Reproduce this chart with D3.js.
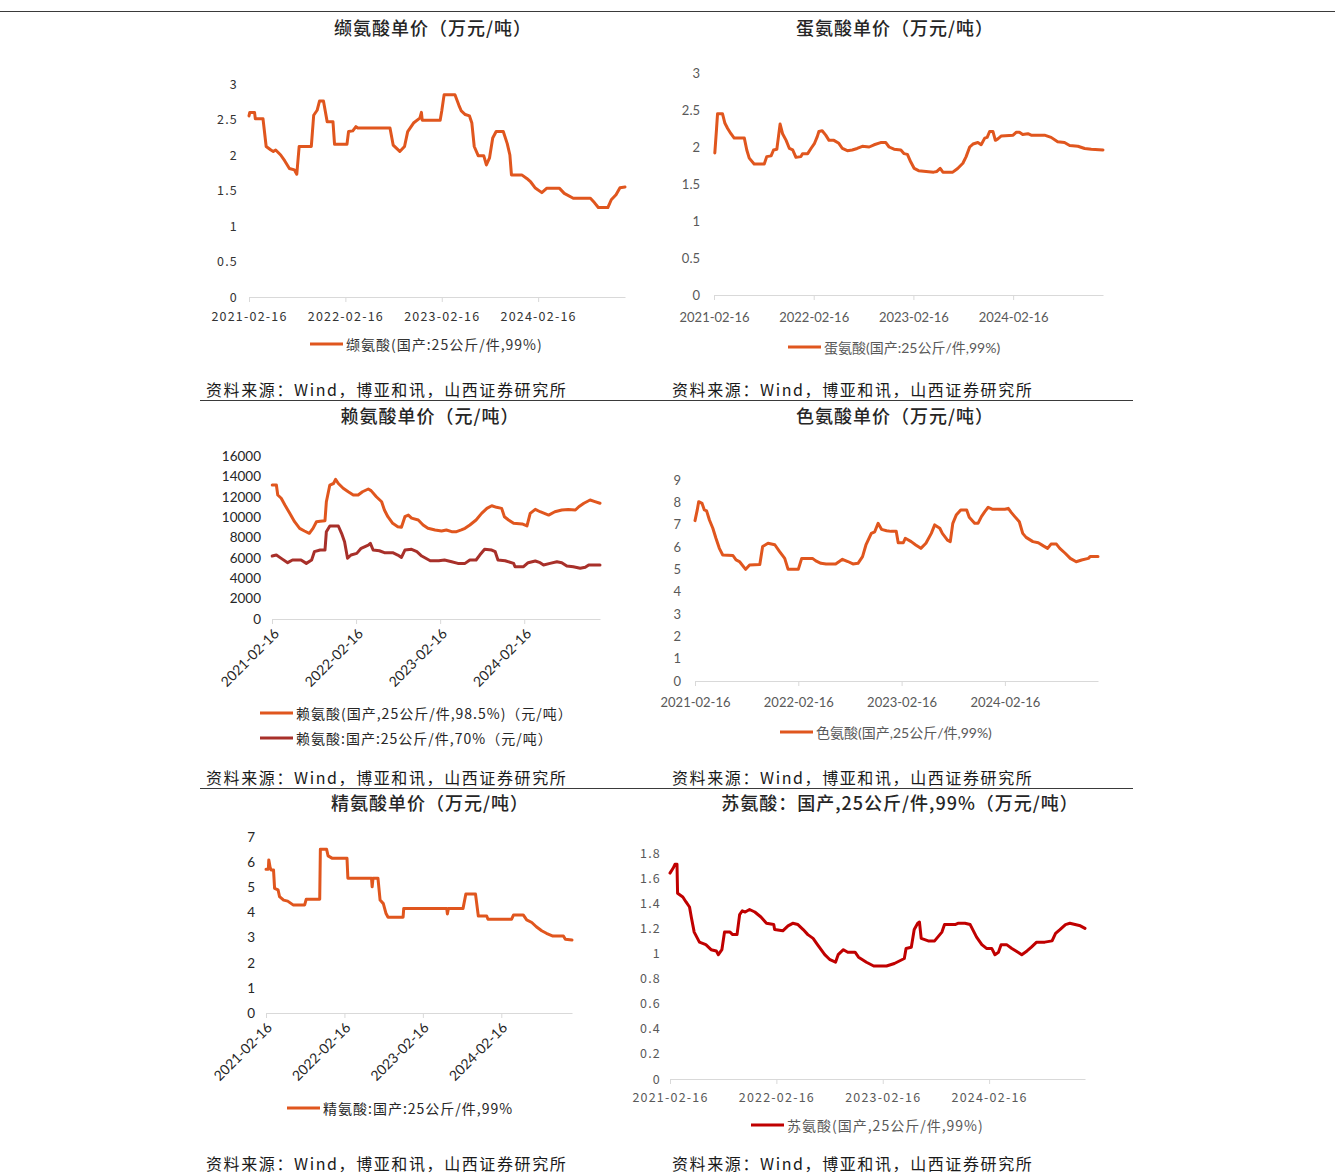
<!DOCTYPE html>
<html>
<head>
<meta charset="utf-8">
<script src="https://cdn.jsdelivr.net/npm/d3@7"></script>
<style>
  body { margin: 0; background: #fff; }
  svg { display: block; }
</style>
</head>
<body>
<div id="chart"></div>
<script>
// ---- data ----
var startDate = "2021-02-16", endDate = "2025-01-10";
var xTickDates = ["2021-02-16", "2022-02-16", "2023-02-16", "2024-02-16"];

var valineTicks = [0, 0.5, 1, 1.5, 2, 2.5, 3];
var methionineTicks = [0, 0.5, 1, 1.5, 2, 2.5, 3];
var lysineTicks = [0, 2000, 4000, 6000, 8000, 10000, 12000, 14000, 16000];
var tryptophanTicks = [0, 1, 2, 3, 4, 5, 6, 7, 8, 9];
var arginineTicks = [0, 1, 2, 3, 4, 5, 6, 7];
var threonineTicks = [0, 0.2, 0.4, 0.6, 0.8, 1, 1.2, 1.4, 1.6, 1.8];

var valine = [
  ["2021-02-16",2.55],["2021-02-19",2.60],["2021-03-09",2.60],["2021-03-12",2.51],["2021-04-10",2.51],
  ["2021-04-22",2.12],["2021-05-10",2.07],["2021-05-19",2.05],["2021-05-28",2.07],["2021-06-16",2.00],
  ["2021-07-01",1.92],["2021-07-19",1.81],["2021-08-07",1.79],["2021-08-16",1.73],["2021-08-25",2.12],
  ["2021-10-10",2.12],["2021-10-19",2.56],["2021-11-01",2.63],["2021-11-10",2.76],["2021-11-25",2.76],
  ["2021-12-09",2.47],["2021-12-31",2.47],["2022-01-06",2.15],["2022-02-22",2.15],["2022-02-28",2.33],
  ["2022-03-16",2.34],["2022-03-28",2.40],["2022-04-04",2.38],["2022-08-04",2.38],["2022-08-16",2.14],
  ["2022-09-10",2.05],["2022-09-28",2.12],["2022-10-10",2.33],["2022-11-01",2.45],["2022-11-25",2.52],
  ["2022-12-01",2.60],["2022-12-04",2.49],["2023-02-10",2.49],["2023-02-16",2.62],["2023-02-25",2.85],
  ["2023-04-07",2.85],["2023-04-22",2.70],["2023-05-01",2.62],["2023-05-16",2.57],["2023-06-01",2.55],
  ["2023-06-10",2.45],["2023-06-19",2.12],["2023-07-04",1.99],["2023-07-25",1.99],["2023-08-04",1.86],
  ["2023-08-16",1.96],["2023-08-28",2.24],["2023-09-10",2.33],["2023-10-07",2.33],["2023-10-22",2.16],
  ["2023-11-01",2.00],["2023-11-07",1.72],["2023-12-16",1.72],["2024-01-04",1.67],["2024-01-19",1.62],
  ["2024-02-04",1.54],["2024-03-01",1.47],["2024-03-19",1.53],["2024-05-07",1.53],["2024-05-25",1.46],
  ["2024-06-28",1.39],["2024-09-01",1.39],["2024-09-16",1.33],["2024-10-01",1.26],["2024-11-06",1.26],
  ["2024-11-19",1.37],["2024-12-07",1.44],["2024-12-22",1.54],["2025-01-10",1.55]
];

var methionine = [
  ["2021-02-19",1.92],["2021-02-25",2.23],["2021-03-01",2.45],["2021-03-19",2.45],["2021-03-28",2.32],
  ["2021-04-07",2.25],["2021-04-19",2.18],["2021-05-01",2.12],["2021-06-07",2.12],["2021-06-16",1.96],
  ["2021-06-25",1.85],["2021-07-13",1.77],["2021-08-19",1.77],["2021-08-28",1.87],["2021-09-13",1.88],
  ["2021-09-22",1.96],["2021-10-04",1.97],["2021-10-10",2.14],["2021-10-16",2.31],["2021-10-25",2.18],
  ["2021-11-07",2.09],["2021-11-19",1.98],["2021-12-01",1.96],["2021-12-13",1.86],["2021-12-31",1.87],
  ["2022-01-06",1.91],["2022-01-25",1.91],["2022-02-06",1.98],["2022-02-19",2.05],["2022-03-01",2.14],
  ["2022-03-07",2.21],["2022-03-19",2.22],["2022-04-01",2.16],["2022-04-13",2.09],["2022-05-01",2.09],
  ["2022-05-19",2.05],["2022-06-01",1.98],["2022-06-19",1.95],["2022-07-07",1.96],["2022-07-25",1.98],
  ["2022-08-13",2.01],["2022-09-07",2.00],["2022-09-25",2.03],["2022-10-19",2.06],["2022-11-07",2.06],
  ["2022-11-19",2.00],["2022-12-07",1.97],["2023-01-01",1.96],["2023-01-13",1.91],["2023-01-25",1.90],
  ["2023-02-06",1.80],["2023-02-19",1.71],["2023-03-07",1.68],["2023-05-01",1.66],["2023-05-13",1.67],
  ["2023-05-25",1.71],["2023-06-04",1.66],["2023-07-10",1.66],["2023-07-28",1.71],["2023-08-16",1.78],
  ["2023-08-28",1.87],["2023-09-10",2.00],["2023-09-22",2.04],["2023-10-10",2.06],["2023-10-22",2.03],
  ["2023-11-04",2.12],["2023-11-13",2.13],["2023-11-22",2.21],["2023-12-04",2.21],["2023-12-13",2.09],
  ["2023-12-22",2.11],["2024-01-04",2.15],["2024-02-16",2.16],["2024-02-28",2.20],["2024-03-10",2.20],
  ["2024-03-22",2.17],["2024-04-10",2.18],["2024-04-22",2.16],["2024-06-10",2.16],["2024-07-04",2.13],
  ["2024-07-28",2.07],["2024-08-22",2.06],["2024-09-10",2.02],["2024-10-10",2.01],["2024-11-04",1.98],
  ["2024-11-28",1.97],["2025-01-10",1.96]
];

var lysine985 = [
  ["2021-02-17",13150],["2021-03-07",13150],["2021-03-13",12170],["2021-03-28",11850],["2021-04-13",11190],
  ["2021-05-04",10370],["2021-05-25",9550],["2021-06-16",8900],["2021-07-07",8640],["2021-07-28",8410],
  ["2021-08-13",8900],["2021-08-28",9550],["2021-09-13",9600],["2021-10-04",9650],["2021-10-10",11510],
  ["2021-10-25",13150],["2021-11-10",13300],["2021-11-19",13710],["2021-12-01",13300],["2021-12-22",12830],
  ["2022-01-13",12490],["2022-02-04",12170],["2022-02-25",12170],["2022-03-16",12490],["2022-04-10",12760],
  ["2022-04-22",12600],["2022-05-15",12000],["2022-06-07",11510],["2022-06-19",10700],["2022-07-04",10040],
  ["2022-07-25",9390],["2022-08-16",9060],["2022-09-01",9000],["2022-09-16",10040],["2022-10-01",10200],
  ["2022-10-15",9900],["2022-11-13",9720],["2022-12-04",9230],["2022-12-25",8900],["2023-01-25",8740],
  ["2023-02-22",8640],["2023-03-15",8740],["2023-04-07",8570],["2023-04-28",8570],["2023-05-19",8740],
  ["2023-06-04",8900],["2023-06-25",9230],["2023-07-22",9720],["2023-08-15",10370],["2023-09-07",10860],
  ["2023-09-28",11120],["2023-10-19",10960],["2023-11-10",10860],["2023-11-22",10040],["2023-12-10",9720],
  ["2024-01-01",9390],["2024-02-07",9330],["2024-02-28",9130],["2024-03-13",10370],["2024-04-04",10760],
  ["2024-04-25",10530],["2024-06-01",10200],["2024-06-28",10530],["2024-07-28",10700],["2024-08-25",10760],
  ["2024-09-25",10700],["2024-10-10",11020],["2024-11-01",11360],["2024-11-28",11680],["2024-12-19",11520],
  ["2025-01-10",11360]
];

var lysine70 = [
  ["2021-02-17",6180],["2021-03-07",6280],["2021-03-28",5950],["2021-04-25",5530],["2021-05-16",5790],
  ["2021-06-22",5790],["2021-07-15",5460],["2021-08-07",5790],["2021-08-19",6610],["2021-09-13",6770],
  ["2021-10-04",6770],["2021-10-10",8570],["2021-10-25",9130],["2021-12-01",9130],["2021-12-15",8410],
  ["2021-12-28",7590],["2022-01-10",5960],["2022-01-25",6280],["2022-02-19",6440],["2022-03-10",6940],
  ["2022-04-10",7260],["2022-04-19",7430],["2022-05-01",6770],["2022-05-28",6700],["2022-06-19",6510],
  ["2022-07-25",6510],["2022-08-16",6280],["2022-09-01",6050],["2022-09-16",6770],["2022-10-15",6840],
  ["2022-11-07",6610],["2022-11-28",6180],["2023-01-04",5720],["2023-02-10",5720],["2023-03-07",5790],
  ["2023-04-07",5620],["2023-05-04",5460],["2023-06-04",5460],["2023-06-25",5790],["2023-07-22",5790],
  ["2023-08-07",6280],["2023-08-28",6840],["2023-09-28",6770],["2023-10-13",6610],["2023-10-25",5790],
  ["2023-11-25",5720],["2024-01-01",5460],["2024-01-07",5130],["2024-02-13",5130],["2024-03-04",5530],
  ["2024-04-04",5690],["2024-04-25",5530],["2024-05-10",5300],["2024-06-07",5460],["2024-07-07",5620],
  ["2024-07-28",5530],["2024-08-19",5200],["2024-09-16",5130],["2024-10-16",4980],["2024-11-07",5070],
  ["2024-11-22",5300],["2025-01-10",5300]
];

var tryptophan = [
  ["2021-02-16",7.18],["2021-02-24",7.66],["2021-03-01",8.03],["2021-03-13",7.95],["2021-03-21",7.66],
  ["2021-03-29",7.62],["2021-04-08",7.21],["2021-04-20",6.84],["2021-05-01",6.39],["2021-05-13",5.94],
  ["2021-05-25",5.64],["2021-06-30",5.62],["2021-07-11",5.42],["2021-07-23",5.35],["2021-08-14",5.00],
  ["2021-08-28",5.19],["2021-10-03",5.22],["2021-10-13",6.02],["2021-11-01",6.17],["2021-11-25",6.10],
  ["2021-12-12",5.79],["2021-12-30",5.49],["2022-01-11",5.00],["2022-02-16",5.00],["2022-02-28",5.49],
  ["2022-04-07",5.49],["2022-04-19",5.38],["2022-05-07",5.27],["2022-05-25",5.24],["2022-06-28",5.24],
  ["2022-07-22",5.45],["2022-08-10",5.35],["2022-08-28",5.24],["2022-09-15",5.27],["2022-10-01",5.57],
  ["2022-10-13",6.09],["2022-11-01",6.61],["2022-11-13",6.68],["2022-11-25",7.06],["2022-12-07",6.79],
  ["2022-12-25",6.73],["2023-01-10",6.70],["2023-01-28",6.70],["2023-02-04",6.19],["2023-02-22",6.19],
  ["2023-03-01",6.39],["2023-03-22",6.24],["2023-04-07",6.09],["2023-04-25",5.94],["2023-05-13",6.17],
  ["2023-06-01",6.61],["2023-06-13",6.99],["2023-07-01",6.84],["2023-07-10",6.61],["2023-07-28",6.31],
  ["2023-08-07",6.24],["2023-08-16",7.06],["2023-08-28",7.43],["2023-09-13",7.66],["2023-10-04",7.66],
  ["2023-10-13",7.33],["2023-11-01",7.06],["2023-11-13",7.06],["2023-11-25",7.36],["2023-12-07",7.58],
  ["2023-12-19",7.78],["2024-01-04",7.69],["2024-02-16",7.69],["2024-02-28",7.73],["2024-03-10",7.54],
  ["2024-03-22",7.36],["2024-04-07",7.13],["2024-04-19",6.61],["2024-05-01",6.43],["2024-05-25",6.24],
  ["2024-06-13",6.19],["2024-07-01",6.05],["2024-07-16",5.94],["2024-07-28",6.13],["2024-08-16",6.13],
  ["2024-08-28",5.94],["2024-09-16",5.72],["2024-10-04",5.49],["2024-10-25",5.34],["2024-11-13",5.42],
  ["2024-12-07",5.49],["2024-12-13",5.57],["2025-01-10",5.57]
];

var arginine = [
  ["2021-02-16",5.72],["2021-02-27",5.72],["2021-03-01",6.09],["2021-03-07",5.80],["2021-03-12",5.69],
  ["2021-03-23",5.69],["2021-03-28",4.96],["2021-04-13",4.90],["2021-04-20",4.63],["2021-05-09",4.49],
  ["2021-05-28",4.45],["2021-06-22",4.30],["2021-08-15",4.30],["2021-08-22",4.52],["2021-10-24",4.52],
  ["2021-10-27",6.51],["2021-11-25",6.51],["2021-12-02",6.25],["2021-12-22",6.15],["2022-02-28",6.15],
  ["2022-03-04",5.36],["2022-06-22",5.36],["2022-06-25",5.02],["2022-06-29",5.36],["2022-07-22",5.36],
  ["2022-08-01",4.49],["2022-08-16",4.35],["2022-08-28",3.97],["2022-09-07",3.81],["2022-11-16",3.81],
  ["2022-11-19",4.16],["2023-06-07",4.16],["2023-06-10",3.94],["2023-06-15",4.16],["2023-08-22",4.16],
  ["2023-09-04",4.73],["2023-10-19",4.73],["2023-11-01",3.86],["2023-12-10",3.86],["2023-12-16",3.73],
  ["2024-04-04",3.73],["2024-04-13",3.90],["2024-05-28",3.90],["2024-06-13",3.70],["2024-07-07",3.60],
  ["2024-07-28",3.43],["2024-08-22",3.27],["2024-09-13",3.17],["2024-10-13",3.06],["2024-12-01",3.06],
  ["2024-12-10",2.93],["2025-01-10",2.90]
];

var threonine = [
  ["2021-02-16",1.64],["2021-02-27",1.68],["2021-03-05",1.71],["2021-03-12",1.71],["2021-03-14",1.48],
  ["2021-04-01",1.45],["2021-04-12",1.41],["2021-04-24",1.37],["2021-04-30",1.29],["2021-05-10",1.17],
  ["2021-05-28",1.09],["2021-06-19",1.07],["2021-07-07",1.03],["2021-07-25",1.02],["2021-08-01",0.99],
  ["2021-08-13",1.03],["2021-08-22",1.17],["2021-09-10",1.17],["2021-09-19",1.15],["2021-10-04",1.15],
  ["2021-10-13",1.31],["2021-10-22",1.34],["2021-11-01",1.33],["2021-11-16",1.35],["2021-12-04",1.33],
  ["2021-12-25",1.29],["2022-01-13",1.24],["2022-02-07",1.23],["2022-02-10",1.19],["2022-03-10",1.18],
  ["2022-03-28",1.22],["2022-04-13",1.24],["2022-05-01",1.23],["2022-05-19",1.19],["2022-06-04",1.15],
  ["2022-06-22",1.12],["2022-07-07",1.07],["2022-08-01",0.99],["2022-08-19",0.95],["2022-09-07",0.93],
  ["2022-09-16",0.99],["2022-10-04",1.03],["2022-10-19",1.01],["2022-11-13",1.01],["2022-11-25",0.97],
  ["2022-12-22",0.93],["2023-01-16",0.90],["2023-03-01",0.90],["2023-03-28",0.92],["2023-05-01",0.96],
  ["2023-05-07",1.04],["2023-05-25",1.05],["2023-06-04",1.19],["2023-06-16",1.24],["2023-06-22",1.25],
  ["2023-06-28",1.12],["2023-07-22",1.10],["2023-08-13",1.10],["2023-09-07",1.17],["2023-09-16",1.23],
  ["2023-10-22",1.23],["2023-11-01",1.24],["2023-11-25",1.24],["2023-12-13",1.23],["2024-01-04",1.13],
  ["2024-01-22",1.07],["2024-02-07",1.04],["2024-02-25",1.04],["2024-03-07",0.99],["2024-03-19",1.01],
  ["2024-03-28",1.07],["2024-04-16",1.07],["2024-05-04",1.04],["2024-05-25",1.01],["2024-06-07",0.99],
  ["2024-06-25",1.02],["2024-07-10",1.05],["2024-07-28",1.09],["2024-08-25",1.09],["2024-09-19",1.10],
  ["2024-10-01",1.16],["2024-10-16",1.19],["2024-11-04",1.23],["2024-11-19",1.24],["2024-12-07",1.23],
  ["2024-12-25",1.22],["2025-01-10",1.20]
];

var sourceText = "资料来源：Wind，博亚和讯，山西证券研究所";

// ---- styles ----
var ORANGE = "#E0561E", DARKRED = "#A8302A", RED = "#C00000";
var CJK = "'Noto Sans CJK SC',sans-serif";
var SANS = "Lato,'Noto Sans CJK SC',sans-serif";
var parse = d3.timeParse("%Y-%m-%d");
var fmtDate = d3.timeFormat("%Y-%m-%d");

var width = 1335, height = 1174;
var svg = d3.select("#chart").append("svg")
  .attr("width", width)
  .attr("height", height);

// page rules
svg.append("line").attr("x1", 0).attr("x2", width).attr("y1", 11.5).attr("y2", 11.5)
  .attr("stroke", "#3a3a3a").attr("stroke-width", 1);
[400.5, 788.5].forEach(function(yy) {
  svg.append("line").attr("x1", 200).attr("x2", 1133).attr("y1", yy).attr("y2", yy)
    .attr("stroke", "#3a3a3a").attr("stroke-width", 1);
});

var panels = [
  { title: "缬氨酸单价（万元/吨）", tx: 433, ty: 27,
    x0: 249, x1: 625, yb: 297, yt: 84, ticks: valineTicks,
    tickFont: CJK, tickSize: 12.5, tickSpacing: 1.2, tickColor: "#333", xPad: 10, yPad: 11, rotate: false,
    series: [{ data: valine, color: ORANGE, label: "缬氨酸(国产:25公斤/件,99%)" }],
    legX: 310, legY: 344, legFont: CJK, legSpacing: 1, legColor: "#333", legGap: 25,
    src: [206, 389] },
  { title: "蛋氨酸单价（万元/吨）", tx: 895, ty: 27,
    x0: 714, x1: 1103, yb: 295, yt: 73, ticks: methionineTicks,
    tickFont: SANS, tickSize: 13, tickSpacing: 0, tickColor: "#595959", xPad: 13, yPad: 14, rotate: false,
    series: [{ data: methionine, color: ORANGE, label: "蛋氨酸(国产:25公斤/件,99%)" }],
    legX: 788, legY: 347, legFont: SANS, legSpacing: 0, legColor: "#595959", legGap: 25,
    src: [672, 389] },
  { title: "赖氨酸单价（元/吨）", tx: 430, ty: 415,
    x0: 272, x1: 600, yb: 619, yt: 456, ticks: lysineTicks,
    tickFont: SANS, tickSize: 13.5, tickSpacing: 0, tickColor: "#262626", xPad: 0, yPad: 11, rotate: true, rot: [4, 12], rotSize: 14,
    series: [{ data: lysine985, color: ORANGE, label: "赖氨酸(国产,25公斤/件,98.5%)（元/吨）" },
             { data: lysine70, color: DARKRED, label: "赖氨酸:国产:25公斤/件,70%（元/吨）" }],
    legX: 260, legY: 713, legFont: CJK, legSpacing: 1, legColor: "#262626", legGap: 25,
    src: [206, 777] },
  { title: "色氨酸单价（万元/吨）", tx: 895, ty: 415,
    x0: 695, x1: 1098, yb: 681, yt: 480, ticks: tryptophanTicks,
    tickFont: SANS, tickSize: 13, tickSpacing: 0, tickColor: "#595959", xPad: 12, yPad: 14, rotate: false,
    series: [{ data: tryptophan, color: ORANGE, label: "色氨酸(国产,25公斤/件,99%)" }],
    legX: 780, legY: 732, legFont: SANS, legSpacing: 0, legColor: "#595959", legGap: 25,
    src: [672, 777] },
  { title: "精氨酸单价（万元/吨）", tx: 430, ty: 802,
    x0: 266, x1: 572, yb: 1013, yt: 837, ticks: arginineTicks,
    tickFont: SANS, tickSize: 13.5, tickSpacing: 0, tickColor: "#262626", xPad: 0, yPad: 11, rotate: true, rot: [3, 12], rotSize: 14,
    series: [{ data: arginine, color: ORANGE, label: "精氨酸:国产:25公斤/件,99%" }],
    legX: 287, legY: 1108, legFont: CJK, legSpacing: 1, legColor: "#262626", legGap: 25,
    src: [206, 1163] },
  { title: "苏氨酸：国产,25公斤/件,99%（万元/吨）", tx: 900, ty: 802,
    x0: 670, x1: 1085, yb: 1079, yt: 853, ticks: threonineTicks,
    tickFont: CJK, tickSize: 12.5, tickSpacing: 1.2, tickColor: "#595959", xPad: 9, yPad: 9, rotate: false,
    series: [{ data: threonine, color: RED, label: "苏氨酸(国产,25公斤/件,99%)" }],
    legX: 751, legY: 1125, legFont: CJK, legSpacing: 1, legColor: "#595959", legGap: 25,
    src: [672, 1163] }
];

panels.forEach(function(p) { drawPanel(svg, p); });

function drawPanel(svg, p) {
  var g = svg.append("g");

  var x = d3.scaleTime()
    .domain([parse(startDate), parse(endDate)])
    .range([p.x0, p.x1]);
  var y = d3.scaleLinear()
    .domain([0, d3.max(p.ticks)])
    .range([p.yb, p.yt]);

  // title
  g.append("text")
    .attr("x", p.tx).attr("y", p.ty)
    .attr("text-anchor", "middle")
    .attr("dominant-baseline", "central")
    .attr("font-family", CJK)
    .attr("font-size", 18)
    .attr("font-weight", 500)
    .attr("letter-spacing", 1)
    .attr("fill", "#262626")
    .text(p.title);

  // x axis
  var xa = g.append("g")
    .attr("transform", "translate(0," + p.yb + ")")
    .call(d3.axisBottom(x)
      .tickValues(xTickDates.map(parse))
      .tickFormat(fmtDate)
      .tickSizeInner(5).tickSizeOuter(0)
      .tickPadding(p.xPad));
  xa.attr("font-family", p.tickFont).attr("font-size", p.rotate ? p.rotSize : p.tickSize)
    .attr("letter-spacing", p.tickSpacing);
  xa.select(".domain").attr("stroke", "#d9d9d9");
  xa.selectAll(".tick line").attr("stroke", "#d9d9d9");
  xa.selectAll(".tick text").attr("fill", p.tickColor);
  if (p.rotate) {
    xa.selectAll(".tick text")
      .attr("x", 0).attr("y", 0).attr("dy", "0.35em")
      .attr("text-anchor", "end")
      .attr("transform", "translate(" + p.rot[0] + "," + p.rot[1] + ") rotate(-45)");
  }

  // y axis (labels only)
  var ya = g.append("g")
    .attr("transform", "translate(" + p.x0 + ",0)")
    .call(d3.axisLeft(y)
      .tickValues(p.ticks)
      .tickSize(0)
      .tickPadding(p.yPad)
      .tickFormat(function(d) { return String(+d.toFixed(1)); }));
  ya.attr("font-family", p.tickFont).attr("font-size", p.tickSize)
    .attr("letter-spacing", p.tickSpacing);
  ya.select(".domain").remove();
  ya.selectAll(".tick text").attr("fill", p.tickColor);

  // lines
  var line = d3.line()
    .x(function(d) { return x(parse(d[0])); })
    .y(function(d) { return y(d[1]); });

  p.series.forEach(function(s, i) {
    g.append("path")
      .datum(s.data)
      .attr("d", line)
      .attr("fill", "none")
      .attr("stroke", s.color)
      .attr("stroke-width", 3)
      .attr("stroke-linejoin", "round")
      .attr("stroke-linecap", "round");

    // legend
    var ly = p.legY + i * p.legGap;
    g.append("line")
      .attr("x1", p.legX).attr("x2", p.legX + 33)
      .attr("y1", ly).attr("y2", ly)
      .attr("stroke", s.color).attr("stroke-width", 3);
    g.append("text")
      .attr("x", p.legX + 36).attr("y", ly)
      .attr("dominant-baseline", "central")
      .attr("font-family", p.legFont)
      .attr("font-size", 14)
      .attr("letter-spacing", p.legSpacing)
      .attr("fill", p.legColor)
      .text(s.label);
  });

  // source
  g.append("text")
    .attr("x", p.src[0]).attr("y", p.src[1])
    .attr("dominant-baseline", "central")
    .attr("font-family", CJK)
    .attr("font-size", 16)
    .attr("letter-spacing", 1.6)
    .attr("fill", "#1a1a1a")
    .text(sourceText);
}
</script>
</body>
</html>
